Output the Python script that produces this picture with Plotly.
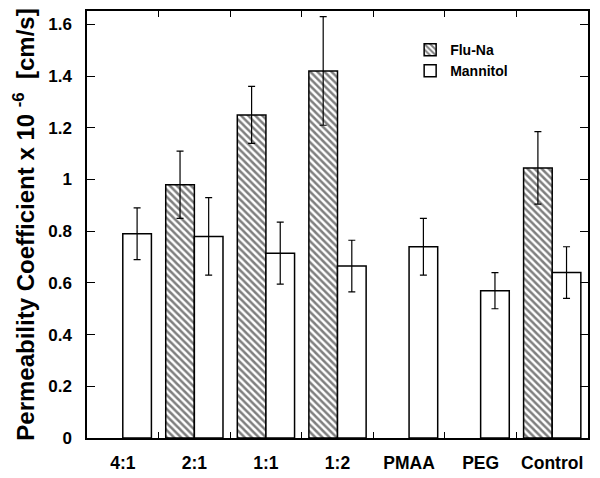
import plotly.graph_objects as go

categories = ["4:1", "2:1", "1:1", "1:2", "PMAA", "PEG", "Control"]
flu_na = [None, 0.98, 1.25, 1.42, None, None, 1.045]
flu_na_err = [None, 0.13, 0.11, 0.21, None, None, 0.14]
mannitol = [0.79, 0.78, 0.715, 0.665, 0.74, 0.57, 0.64]
mannitol_err = [0.10, 0.15, 0.12, 0.10, 0.11, 0.07, 0.10]
y_ticks = [0, 0.2, 0.4, 0.6, 0.8, 1, 1.2, 1.4, 1.6]

FONT = "Liberation Sans, Arial, Helvetica, sans-serif"

fig = go.Figure()
fig.add_trace(go.Bar(
    x=categories, y=flu_na, name="Flu-Na",
    marker=dict(color="white", line=dict(color="black", width=1.5),
                pattern=dict(shape="\\", fgcolor="black", bgcolor="white",
                             size=5, solidity=0.5)),
    error_y=dict(type="data", array=flu_na_err, color="black",
                 thickness=1.2, width=3.5),
))
fig.add_trace(go.Bar(
    x=categories, y=mannitol, name="Mannitol",
    marker=dict(color="white", line=dict(color="black", width=1.5)),
    error_y=dict(type="data", array=mannitol_err, color="black",
                 thickness=1.2, width=3.5),
))

# page body has an 8px margin, so the figure is sized/offset to compensate
fig.update_layout(
    width=592, height=470,
    margin=dict(l=79, r=12, t=3, b=40, autoexpand=False),
    paper_bgcolor="white", plot_bgcolor="white",
    barmode="group", bargap=0.2, bargroupgap=0,
    font=dict(family=FONT, color="black", size=16, weight="bold"),
    showlegend=True,
    legend=dict(x=0.645, y=0.946, xanchor="left", yanchor="top",
                bgcolor="rgba(0,0,0,0)", font=dict(size=14, weight="bold"),
                tracegroupgap=2),
)
fig.update_xaxes(
    type="category", range=[-0.5, 6.5], automargin=False,
    showline=True, linecolor="black", linewidth=1.5, mirror="ticks",
    ticks="inside", tickson="boundaries", ticklen=6, tickcolor="black",
    tickfont=dict(size=17.5, weight="bold"), ticklabelstandoff=8,
    showgrid=False,
)
fig.update_yaxes(
    range=[0, 1.652], tickvals=y_ticks, automargin=False,
    showline=True, linecolor="black", linewidth=1.5, mirror="ticks",
    ticks="inside", ticklen=8, tickcolor="black",
    tickfont=dict(size=17, weight="bold"), ticklabelstandoff=10,
    showgrid=False, zeroline=False,
    title=dict(text="Permeability Coefficient x 10 <sup>-6</sup>  [cm/s]",
               font=dict(size=24, weight="bold"), standoff=7),
)

fig.write_html("out.html")
